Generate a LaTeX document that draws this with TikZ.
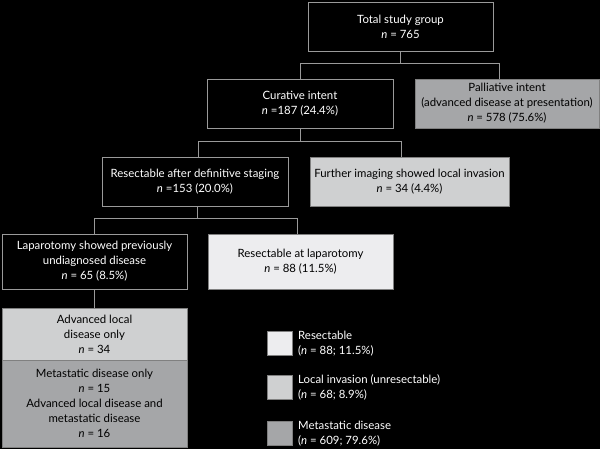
\documentclass[tikz,border=0pt]{standalone}
\usepackage{fontspec}
\setmainfont{Lato}
\usetikzlibrary{calc}

\definecolor{lightfill}{HTML}{EDEDEF}
\definecolor{midfill}{HTML}{CFD0D1}
\definecolor{darkfill}{HTML}{A5A6A8}
\definecolor{boxline}{HTML}{9A9A9A}

\newcommand{\cnt}{\textit{n}}

\tikzstyle{stage}=[draw=boxline, line width=0.8pt, fill=black, text=white, align=center,
  inner sep=0pt, font=\fontsize{11.4}{15}\selectfont]
\tikzstyle{resect}=[stage, fill=lightfill, text=black, draw=gray]
\tikzstyle{local}=[stage, fill=midfill, text=black, draw=gray]
\tikzstyle{meta}=[stage, fill=darkfill, text=black, draw=gray]
\tikzstyle{key}=[draw=gray, line width=0.8pt, minimum width=25pt, minimum height=24pt, inner sep=0pt]
\tikzstyle{keytext}=[anchor=west, align=left, text=white, inner sep=0pt,
  font=\fontsize{11.4}{15}\selectfont]
\tikzstyle{link}=[draw=boxline, line width=0.8pt]

\begin{document}
\begin{tikzpicture}[x=1pt, y=-1pt]
      \fill[black] (0,0) rectangle (600,449);
      \useasboundingbox (0,0) rectangle (600,449);

      \node[stage, minimum width=185pt, minimum height=49pt] (total) at (400.5, 26.5)
        {Total study group\\\cnt{} = 765};
      \node[stage, minimum width=186pt, minimum height=49pt] (curative) at (300, 103.5)
        {Curative intent\\\cnt{} =187 (24.4\%)};
      \node[meta, minimum width=184pt, minimum height=49pt] (palliative) at (507, 103.5)
        {Palliative intent\\(advanced disease at presentation)\\\cnt{} = 578 (75.6\%)};
      \node[stage, minimum width=186pt, minimum height=49pt] (staging) at (195, 181.5)
        {Resectable after definitive staging\\\cnt{} =153 (20.0\%)};
      \node[local, minimum width=199pt, minimum height=49pt] (imaging) at (409.5, 181.5)
        {Further imaging showed local invasion\\\cnt{} = 34 (4.4\%)};
      \node[stage, minimum width=185pt, minimum height=55pt] (laparotomy) at (94.5, 261.5)
        {Laparotomy showed previously\\undiagnosed disease\\\cnt{} = 65 (8.5\%)};
      \node[resect, minimum width=185pt, minimum height=55pt] (resected) at (300.5, 261.5)
        {Resectable at laparotomy\\\cnt{} = 88 (11.5\%)};
      \node[local, minimum width=185pt, minimum height=52pt] (advanced) at (94.5, 334)
        {Advanced local\\disease only\\\cnt{} = 34};
      \node[meta, minimum width=185pt, minimum height=87pt] (metastatic) at (94.5, 403.5)
        {Metastatic disease only\\\cnt{} = 15\\Advanced local disease and\\metastatic disease\\\cnt{} = 16};

      % legend
      \node[key, fill=lightfill] (keyresect) at (279.5, 343.5) {};
      \node[key, fill=midfill] (keylocal) at (279.5, 387.5) {};
      \node[key, fill=darkfill] (keymeta) at (279.5, 433.5) {};
      \node[keytext] (labresect) at (298, 343.5) {Resectable\\(\cnt{} = 88; 11.5\%)};
      \node[keytext] (lablocal) at (298, 387.5) {Local invasion (unresectable)\\(\cnt{} = 68; 8.9\%)};
      \node[keytext] (labmeta) at (298, 433.5) {Metastatic disease\\(\cnt{} = 609; 79.6\%)};

      \draw[link] (total.south) -- ++(0,12) -| (curative.north);
      \draw[link] (total.south) -- ++(0,12) -| ([xshift=-8pt]palliative.north);
      \draw[link] (curative.south) -- ++(0,13) -| ([xshift=3pt]staging.north);
      \draw[link] (curative.south) -- ++(0,13) -| ([xshift=-8.5pt]imaging.north);
      \draw[link] ([xshift=2pt]staging.south) -- ++(0,12) -| (laparotomy.north);
      \draw[link] ([xshift=2pt]staging.south) -- ++(0,12) -| ([xshift=-3.5pt]resected.north);
      \draw[link] (laparotomy.south) -- (advanced.north);
    \end{tikzpicture}
\end{document}
